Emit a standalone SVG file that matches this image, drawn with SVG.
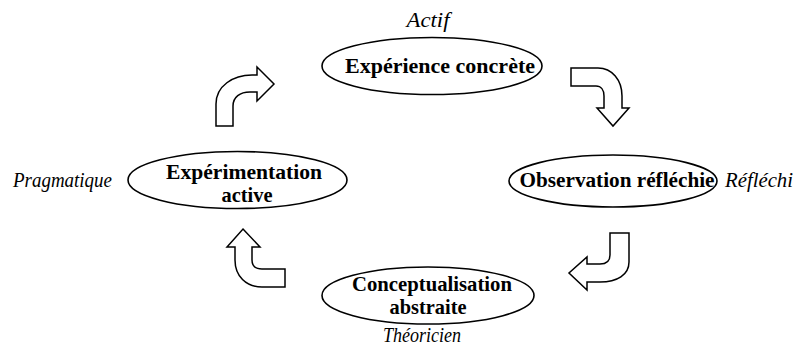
<svg xmlns="http://www.w3.org/2000/svg" width="806" height="349" viewBox="0 0 806 349">
<style>
.node ellipse{fill:#fff;stroke:#000;stroke-width:1.6}
.lbl{font-family:"Liberation Serif","Times New Roman",serif;font-weight:bold;font-size:21px;fill:#000}
.role{font-family:"Liberation Serif","Times New Roman",serif;font-style:italic;font-size:20px;fill:#000}
.arrow{fill:#fff;stroke:#000;stroke-width:1.5;stroke-linejoin:miter}
</style>
<rect width="806" height="349" fill="#fff"/>
<g id="connectors">
<path class="arrow" d="M216,126 V104 C216,86 233,75 252,75 H257 V67 L274,84 L257,101 V92 H250 C240,92 233,97 233,106 V126 Z"/>
<path class="arrow" d="M571,68 H598 C612,68 622,80 622,96 V108 H629 L613,126 L597,108 H604 V96 C604,90 601,86 596,86 H571 Z"/>
<path class="arrow" d="M610,233 H629 V262 C629,275 617,282 600,282 H587 V290 L569,273 L587,257 V264 H600 C606,264 610,261 610,255 Z"/>
<path class="arrow" d="M243,229 L260,247 H252 V260 C252,266 256,269 262,269 H285 V287 H262 C246,287 235,276 235,260 V247 H227 Z"/>
</g>
<g id="node-experience" class="node">
<ellipse cx="432" cy="66" rx="110" ry="28.5"/>
<text class="lbl" x="440" y="73" text-anchor="middle" textLength="190" lengthAdjust="spacingAndGlyphs">Expérience concrète</text>
<text class="role" x="428" y="27" text-anchor="middle" textLength="43" lengthAdjust="spacingAndGlyphs">Actif</text>
</g>
<g id="node-observation" class="node">
<ellipse cx="613" cy="181" rx="104" ry="26"/>
<text class="lbl" x="617" y="187" text-anchor="middle" textLength="195" lengthAdjust="spacingAndGlyphs">Observation réfléchie</text>
<text class="role" x="725" y="187" textLength="68" lengthAdjust="spacingAndGlyphs">Réfléchi</text>
</g>
<g id="node-conceptualisation" class="node">
<ellipse cx="428" cy="295.5" rx="106" ry="28.5"/>
<text class="lbl" x="432" y="291" text-anchor="middle" textLength="160" lengthAdjust="spacingAndGlyphs">Conceptualisation</text>
<text class="lbl" x="428" y="314" text-anchor="middle" textLength="77" lengthAdjust="spacingAndGlyphs">abstraite</text>
<text class="role" x="422" y="342" text-anchor="middle" textLength="78" lengthAdjust="spacingAndGlyphs">Théoricien</text>
</g>
<g id="node-experimentation" class="node">
<ellipse cx="237.5" cy="180" rx="109.5" ry="28.5"/>
<text class="lbl" x="244" y="179" text-anchor="middle" textLength="156" lengthAdjust="spacingAndGlyphs">Expérimentation</text>
<text class="lbl" x="247" y="202" text-anchor="middle" textLength="51" lengthAdjust="spacingAndGlyphs">active</text>
<text class="role" x="13" y="187" textLength="99" lengthAdjust="spacingAndGlyphs">Pragmatique</text>
</g>
</svg>
